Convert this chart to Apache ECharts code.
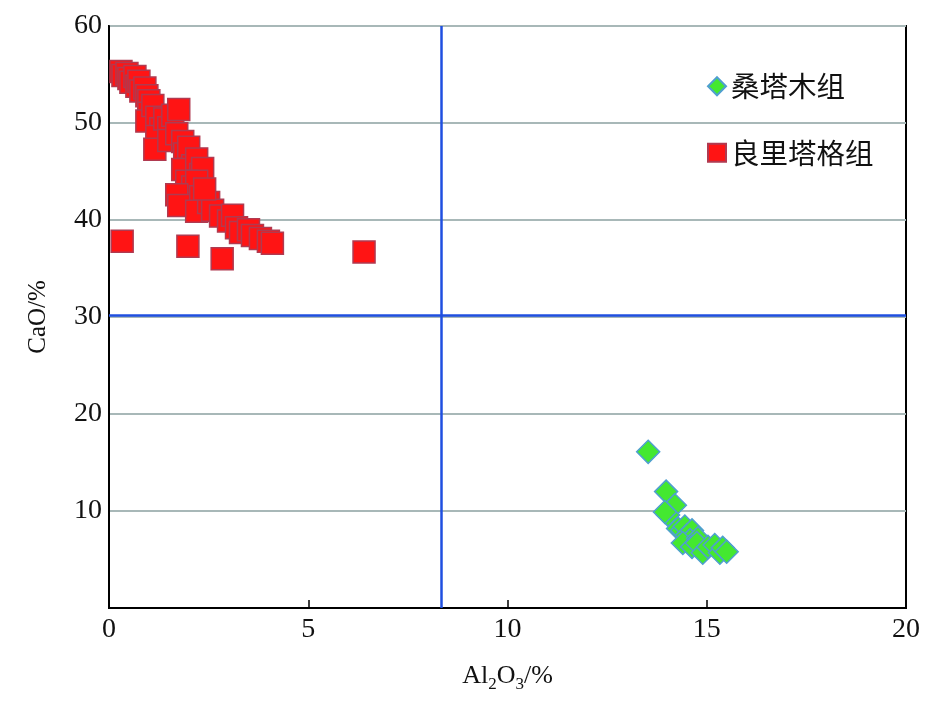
<!DOCTYPE html>
<html><head><meta charset="utf-8">
<script src="https://cdn.jsdelivr.net/npm/echarts@6/dist/echarts.min.js"></script>
<style>html,body{margin:0;padding:0;background:#fff}#c{width:945px;height:710px}</style>
</head><body><div id="c"></div>
<script>
const seriesNames = ['桑塔木组', '良里塔格组'];
const xTicks = [0, 5, 10, 15, 20];
const yTicks = [10, 20, 30, 40, 50, 60];
const boundaryAl2O3 = 8.35;
const boundaryCaO = 30.2;
// 良里塔格组 [Al2O3, CaO]
const liangData = [
  [0.3,55.3],[0.35,54.9],[0.45,55.1],[0.5,54.6],[0.55,54.2],[0.65,54.8],[0.7,53.8],[0.75,54.3],
  [0.8,53.3],[0.9,53.6],[0.95,52.8],[1.0,52.3],[1.0,51.0],[0.95,50.2],[1.1,51.8],[1.2,50.6],
  [1.3,49.4],[1.2,48.6],[1.15,47.3],[1.4,50.4],[1.5,49.5],[1.6,50.8],[1.75,51.4],[1.5,48.2],
  [1.7,48.9],[1.85,48.1],[1.9,46.8],[2.0,47.5],[2.1,45.6],[1.85,45.2],[2.2,46.3],[2.3,44.7],
  [2.35,45.3],[1.95,44.0],[2.1,43.4],[2.2,44.0],[1.7,42.6],[1.75,41.5],[2.3,42.4],[2.2,40.9],
  [2.5,41.8],[2.6,41.0],[2.8,40.4],[3.0,39.9],[3.1,40.5],[3.2,39.2],[3.3,38.7],[3.5,39.0],
  [3.6,38.4],[3.8,38.1],[4.0,37.8],[4.1,37.6],[2.4,43.2],
  [0.33,37.8],[1.98,37.3],[2.84,36.0],[6.4,36.7]
];
// 桑塔木组 [Al2O3, CaO]
const sangData = [
  [13.53,16.1],[13.98,12.0],[14.2,10.6],[14.03,9.6],[13.95,9.9],[14.28,8.2],[14.38,8.0],
  [14.45,8.4],[14.5,7.5],[14.63,8.0],[14.58,7.0],[14.4,6.7],[14.78,7.2],[14.63,6.3],[14.75,6.7],
  [14.9,5.7],[15.03,6.3],[15.2,6.5],[15.33,5.7],[15.4,6.2],[15.5,5.8]
];

const chart = echarts.init(document.getElementById('c'), null, {renderer:'canvas'});
const numFont = '"Liberation Serif","DejaVu Serif",serif';
chart.setOption({
  animation:false,
  backgroundColor:'#fff',
  grid:{left:109,right:39,top:26,bottom:102,show:true,borderColor:'#000',borderWidth:2,backgroundColor:'transparent'},
  xAxis:{type:'value',min:0,max:20,interval:5,
    axisLine:{show:true,onZero:false,lineStyle:{color:'#000',width:2}},
    axisTick:{show:true,inside:true,length:8,lineStyle:{color:'#000',width:1.5}},
    axisLabel:{color:'#111',fontFamily:numFont,fontSize:28,margin:8,formatter:v=>xTicks.includes(v)?String(v):''},
    splitLine:{show:false},
    name:'{a|Al}{s|2}{a|O}{s|3}{a|/%}',nameLocation:'middle',nameGap:52,
    nameTextStyle:{rich:{a:{fontFamily:numFont,fontSize:26,color:'#111'},s:{fontFamily:numFont,fontSize:17,color:'#111',padding:[16,0,0,0]}}}
  },
  yAxis:{type:'value',min:0,max:60,interval:10,
    axisLine:{show:true,onZero:false,lineStyle:{color:'#000',width:2}},
    axisTick:{show:false},
    axisLabel:{color:'#111',fontFamily:numFont,fontSize:28,margin:7,formatter:v=>yTicks.includes(v)?String(v):''},
    splitLine:{show:true,lineStyle:{color:'#a8b8b8',width:2}},
    name:'CaO/%',nameLocation:'middle',nameGap:58,nameRotate:90,
    nameTextStyle:{fontFamily:numFont,fontSize:25,color:'#111'}
  },
  legend:{show:true,orient:'vertical',left:702,top:67,itemGap:38,itemWidth:18,itemHeight:18,
    textStyle:{fontFamily:'"Noto Sans CJK SC",sans-serif',fontSize:28.5,color:'#111'},
    data:[{name:seriesNames[0],icon:'diamond'},{name:seriesNames[1],icon:'rect'}]},
  series:[
    {name:seriesNames[0],type:'scatter',symbol:'diamond',symbolSize:23,data:sangData,
      itemStyle:{color:'#44e830',borderColor:'#4f9fcf',borderWidth:1.5,opacity:1},
      markLine:{silent:true,symbol:'none',label:{show:false},
        lineStyle:{color:'#1f4fe0',width:2.5,type:'solid'},
        data:[{xAxis:boundaryAl2O3},{yAxis:boundaryCaO}]}},
    {name:seriesNames[1],type:'scatter',symbol:'rect',symbolSize:22,data:liangData,
      itemStyle:{color:'#ff1414',borderColor:'#b03a50',borderWidth:1.5,opacity:1}}
  ]
});
</script></body></html>
